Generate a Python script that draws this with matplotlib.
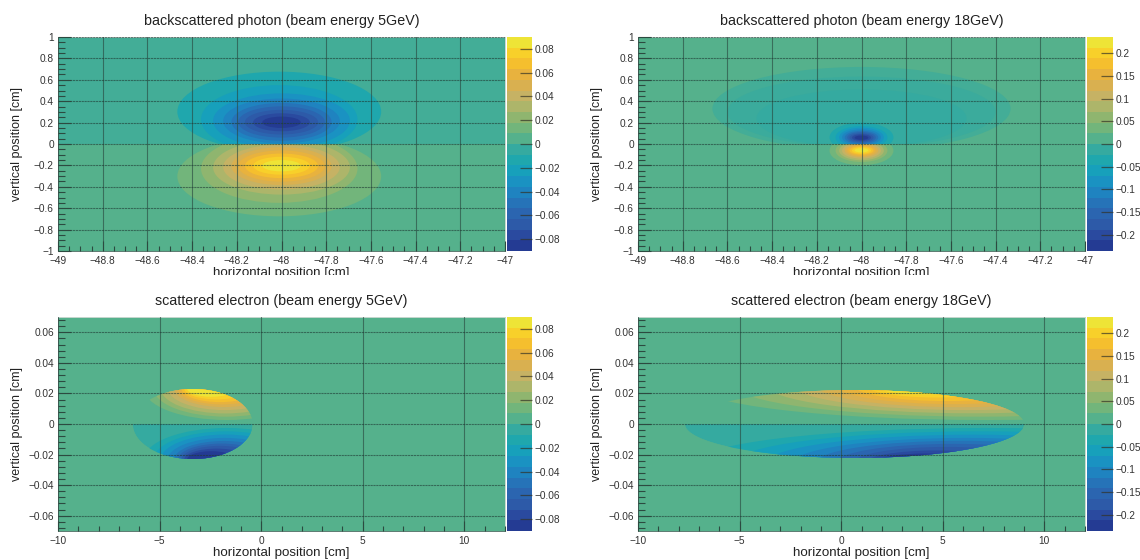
import numpy as np
import matplotlib
matplotlib.use('Agg')
import matplotlib.pyplot as plt
from matplotlib.patches import Ellipse, Rectangle
from matplotlib.path import Path
from matplotlib.colors import ListedColormap, BoundaryNorm, to_rgb

plt.rcParams['font.family'] = ['Liberation Sans', 'DejaVu Sans']

W, H = 1140, 560

# colour bands of the palette, bottom to top
band_colors = ['#243b93', '#2a4a9f', '#2d5aa8', '#2b65b0', '#2673b8',
               '#1f83c0', '#1a92c2', '#17a0bb', '#1fa7ad', '#35aaa0',
               '#55b18c', '#72b57b', '#8fb56f', '#adb56a', '#c6b264',
               '#d9b050', '#e8b23e', '#f5bf2e', '#f8d02a', '#eee436']

# titles
title_ph5 = 'backscattered photon (beam energy 5GeV)'
title_ph18 = 'backscattered photon (beam energy 18GeV)'
title_el5 = 'scattered electron (beam energy 5GeV)'
title_el18 = 'scattered electron (beam energy 18GeV)'

# axis ticks
ph_xticks = [-49, -48.8, -48.6, -48.4, -48.2, -48, -47.8, -47.6, -47.4, -47.2, -47]
ph_xlabels = ['\u221249', '\u221248.8', '\u221248.6', '\u221248.4', '\u221248.2', '\u221248',
              '\u221247.8', '\u221247.6', '\u221247.4', '\u221247.2', '\u221247']
ph_yticks = [-1, -0.8, -0.6, -0.4, -0.2, 0, 0.2, 0.4, 0.6, 0.8, 1]
ph_ylabels = ['\u22121', '\u22120.8', '\u22120.6', '\u22120.4', '\u22120.2', '0', '0.2', '0.4', '0.6', '0.8', '1']
el_xticks = [-10, -5, 0, 5, 10]
el_xlabels = ['\u221210', '\u22125', '0', '5', '10']
el_yticks = [-0.06, -0.04, -0.02, 0, 0.02, 0.04, 0.06]
el_ylabels = ['\u22120.06', '\u22120.04', '\u22120.02', '0', '0.02', '0.04', '0.06']

# colour scale ticks
z5_ticks = [-0.08, -0.06, -0.04, -0.02, 0, 0.02, 0.04, 0.06, 0.08]
z5_labels = ['\u22120.08', '\u22120.06', '\u22120.04', '\u22120.02', '0', '0.02', '0.04', '0.06', '0.08']
z18_ticks = [-0.2, -0.15, -0.1, -0.05, 0, 0.05, 0.1, 0.15, 0.2]
z18_labels = ['\u22120.2', '\u22120.15', '\u22120.1', '\u22120.05', '0', '0.05', '0.1', '0.15', '0.2']
z5_max = 0.09
z18_max = 0.236

# contour bands, outer to inner (2nd band up to 10th band)
# upper lobe, lower lobe is its mirror image
ph5_cx = [-48.01, -48.01, -48.0, -48.0, -48.0, -48.0, -48.0, -48.0, -48.0]
ph5_cy = [0.302, 0.230, 0.218, 0.215, 0.207, 0.206, 0.204, 0.203, 0.203]
ph5_a = [0.456, 0.350, 0.306, 0.261, 0.224, 0.194, 0.164, 0.127, 0.086]
ph5_b = [0.374, 0.320, 0.255, 0.210, 0.177, 0.146, 0.115, 0.084, 0.053]

ph18_cx = [-48.0] * 9
ph18_cy = [0.062, 0.062, 0.062, 0.062, 0.061, 0.061, 0.060, 0.060, 0.059]
ph18_a = [0.143, 0.116, 0.100, 0.087, 0.075, 0.064, 0.054, 0.043, 0.031]
ph18_b = [0.137, 0.106, 0.090, 0.075, 0.062, 0.051, 0.040, 0.031, 0.020]
# wide faint region above the 18 GeV peak: cx, cy, a, b, share of the teal band
ph18_halo = [[-48.0, 0.33, 0.667, 0.39, 0.55],
             [-48.0, 0.30, 0.60, 0.33, 0.8],
             [-48.0, 0.24, 0.47, 0.27, 1.0]]

el5_outer = [-3.37, 0.0, 2.95, 0.0229]
el5_cx = [-1.70, -1.73, -1.77, -1.80, -1.83, -1.95, -2.03, -2.19, -2.45]
el5_cy = [0.0233] * 9
el5_a = [4.07, 3.56, 3.17, 2.79, 2.45, 2.15, 1.90, 1.60, 1.20]
el5_b = [0.0207, 0.0185, 0.0164, 0.0142, 0.0122, 0.0105, 0.0090, 0.0072, 0.0055]

el18_outer = [0.66, 0.0, 8.35, 0.0222]
el18_cx = [7.16, 6.83, 6.50, 6.17, 5.85, 5.52, 5.19, 4.70, 4.21]
el18_cy = [0.0255] * 9
el18_a = [14.37, 12.07, 10.17, 8.53, 7.10, 5.80, 4.60, 3.50, 2.60]
el18_b = [0.0229, 0.0207, 0.0185, 0.0164, 0.0145, 0.0125, 0.0105, 0.0082, 0.0062]

fig = plt.figure(figsize=(W / 100, H / 100), dpi=100, facecolor='white')


def px_axes(x0, x1, y0, y1):
    return fig.add_axes([x0 / W, 1 - y1 / H, (x1 - x0) / W, (y1 - y0) / H])


def half_path(xlim, ylim, sign, outer=None):
    # clip region for one lobe: half of the frame or half of the outer ellipse
    if outer is None:
        lim = ylim[1] * sign
        return Path([(xlim[0], 0), (xlim[1], 0), (xlim[1], lim), (xlim[0], lim), (xlim[0], 0)])
    t = np.linspace(0, 2 * np.pi, 361)
    xs = outer[0] + outer[2] * np.cos(t)
    ys = sign * np.clip(sign * (outer[1] + outer[3] * np.sin(t)), 0, None)
    return Path(np.column_stack([xs, ys]))


def draw_lobes(ax, cx, cy, a, b, outer=None, warm_up=False):
    xlim, ylim = ax.get_xlim(), ax.get_ylim()
    for sign in (1, -1):
        clip = half_path(xlim, ylim, sign, outer)
        if outer is not None and sign == -1:
            p = ax.add_patch(Ellipse((outer[0], outer[1]), 2 * outer[2], 2 * outer[3],
                                     facecolor=band_colors[9], edgecolor='none', zorder=1))
            p.set_clip_path(clip, ax.transData)
        warm = (sign == 1) == warm_up
        for i in range(len(cx)):
            color = band_colors[11 + i] if warm else band_colors[8 - i]
            p = ax.add_patch(Ellipse((cx[i], sign * cy[i]), 2 * a[i], 2 * b[i],
                                     facecolor=color, edgecolor='none', zorder=2 + i * 0.01))
            p.set_clip_path(clip, ax.transData)


def setup_panel(ax, xlim, ylim, xticks, xlabels, yticks, ylabels, xminor, yminor, title):
    ax.set_xlim(xlim)
    ax.set_ylim(ylim)
    ax.set_facecolor(band_colors[10])
    ax.set_xticks(xticks)
    ax.set_xticklabels(xlabels, fontsize=7.3, color='#333333')
    ax.set_yticks(yticks)
    ax.set_yticklabels(ylabels, fontsize=7.3, color='#333333')
    ax.set_xticks(xminor, minor=True)
    ax.set_yticks(yminor, minor=True)
    ax.tick_params(axis='x', which='major', direction='in', length=7, width=0.8, color='#2c4a40', pad=3.5)
    ax.tick_params(axis='x', which='minor', direction='in', length=3.5, width=0.8, color='#2c4a40')
    ax.tick_params(axis='y', which='major', direction='in', length=9, width=0.8, color='#2c4a40', pad=3)
    ax.tick_params(axis='y', which='minor', direction='in', length=5, width=0.8, color='#2c4a40')
    ax.grid(True, axis='x', which='major', color='#2a4a42', lw=0.8, alpha=0.65, zorder=5)
    ax.grid(True, axis='y', which='major', color='#1f3a34', lw=0.8, ls=(0, (2, 0.6)), alpha=0.6, zorder=5)
    ax.set_axisbelow(False)
    for s in ax.spines.values():
        s.set_linewidth(0.7)
        s.set_color('#5a7a70')
    ax.spines['top'].set_color('#c8d8d0')
    ax.spines['right'].set_color('#c8d8d0')
    ax.set_title(title, fontsize=10.3, color='#222222', pad=8.5)
    ax.set_xlabel('horizontal position [cm]', fontsize=9.6, color='#222222', labelpad=0.5)
    ax.set_ylabel('vertical position [cm]', fontsize=9.0, color='#222222')
    ax.yaxis.set_label_coords(-0.078, 0.5)


def color_scale(x0, x1, y0, y1, zmax, ticks, labels):
    cax = px_axes(x0, x1, y0, y1)
    edges = np.linspace(-zmax, zmax, len(band_colors) + 1)
    mids = 0.5 * (edges[:-1] + edges[1:])
    cmap = ListedColormap(band_colors)
    cax.pcolormesh([0, 1], edges, mids.reshape(-1, 1), cmap=cmap, norm=BoundaryNorm(edges, cmap.N))
    cax.set_xticks([])
    cax.set_ylim(-zmax, zmax)
    cax.yaxis.tick_right()
    cax.set_yticks(ticks)
    cax.set_yticklabels(labels, fontsize=7.3, color='#333333')
    cax.tick_params(axis='y', direction='in', length=9, width=0.9, color=(0.2, 0.2, 0.15, 0.7), pad=2)
    for s in cax.spines.values():
        s.set_visible(False)


ph_xminor = np.arange(-49, -46.99, 0.05)
ph_yminor = np.arange(-1, 1.001, 0.05)
el_xminor = np.arange(-10, 12.01, 1)
el_yminor = np.arange(-0.068, 0.0681, 0.004)

# top left, 5 GeV photon
ax1 = px_axes(58, 505, 37, 251)
setup_panel(ax1, (-49, -47), (-1, 1), ph_xticks, ph_xlabels, ph_yticks, ph_ylabels,
            ph_xminor, ph_yminor, title_ph5)
mix = 0.55 * np.array(to_rgb(band_colors[9])) + 0.45 * np.array(to_rgb(band_colors[10]))
ax1.add_patch(Rectangle((-49, 0), 2, 1, facecolor=mix, edgecolor='none', zorder=0.5))
draw_lobes(ax1, ph5_cx, ph5_cy, ph5_a, ph5_b)
color_scale(507, 532, 37, 251, z5_max, z5_ticks, z5_labels)

# top right, 18 GeV photon
ax2 = px_axes(638, 1085, 37, 251)
setup_panel(ax2, (-49, -47), (-1, 1), ph_xticks, ph_xlabels, ph_yticks, ph_ylabels,
            ph_xminor, ph_yminor, title_ph18)
clip_up = half_path((-49, -47), (-1, 1), 1)
for n, pars in enumerate(ph18_halo):
    col = pars[4] * np.array(to_rgb(band_colors[9])) + (1 - pars[4]) * np.array(to_rgb(band_colors[10]))
    p = ax2.add_patch(Ellipse((pars[0], pars[1]), 2 * pars[2], 2 * pars[3],
                              facecolor=col, edgecolor='none', zorder=0.5 + n * 0.1))
    p.set_clip_path(clip_up, ax2.transData)
draw_lobes(ax2, ph18_cx, ph18_cy, ph18_a, ph18_b)
color_scale(1087, 1113, 37, 251, z18_max, z18_ticks, z18_labels)

# bottom left, 5 GeV electron
ax3 = px_axes(58, 505, 317, 531)
setup_panel(ax3, (-10, 12), (-0.07, 0.07), el_xticks, el_xlabels, el_yticks, el_ylabels,
            el_xminor, el_yminor, title_el5)
draw_lobes(ax3, el5_cx, el5_cy, el5_a, el5_b, outer=el5_outer, warm_up=True)
color_scale(507, 532, 317, 531, z5_max, z5_ticks, z5_labels)

# bottom right, 18 GeV electron
ax4 = px_axes(638, 1085, 317, 531)
setup_panel(ax4, (-10, 12), (-0.07, 0.07), el_xticks, el_xlabels, el_yticks, el_ylabels,
            el_xminor, el_yminor, title_el18)
draw_lobes(ax4, el18_cx, el18_cy, el18_a, el18_b, outer=el18_outer, warm_up=True)
color_scale(1087, 1113, 317, 531, z18_max, z18_ticks, z18_labels)

# the top row x titles are cut off at the bottom in the source
fig.add_artist(Rectangle((0, 1 - 283 / H), 1, 8.5 / H, transform=fig.transFigure,
                         facecolor='white', edgecolor='none', zorder=10))

fig.savefig('out.png', dpi=100)
